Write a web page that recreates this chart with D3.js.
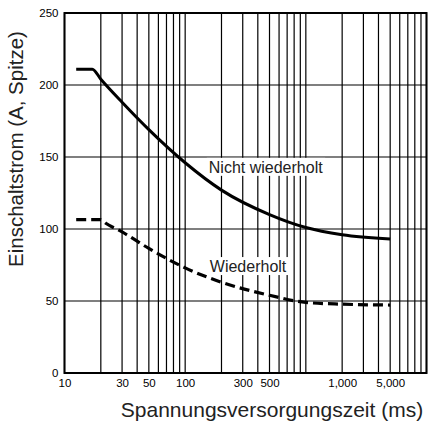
<!DOCTYPE html>
<html>
<head>
<meta charset="utf-8">
<script src="https://cdn.jsdelivr.net/npm/d3@7"></script>
<style>
  html, body { margin: 0; padding: 0; background: #fff; overflow: hidden; }
  svg { display: block; font-family: "Liberation Sans", Arial, sans-serif; }
</style>
</head>
<body>
<svg id="chart" width="429" height="423"></svg>
<script>
// Einschaltstrom vs. Spannungsversorgungszeit
const nichtTime = [12.5, 17, 20, 30, 50, 100, 200, 500, 1000, 2000, 5000];
const nichtCurrent = [211, 211, 204, 188, 169, 146, 127, 110, 101, 96, 93];

const wiederTime = [12.5, 20, 22, 30, 50, 100, 200, 500, 1000, 2000, 5000];
const wiederCurrent = [106.5, 106.5, 104, 98, 86.5, 73, 63, 54, 49, 47.8, 47.2];

const xTickValues = [10, 30, 50, 100, 300, 500, 2000, 5000];
const xTickLabels = ['10', '30', '50', '100', '300', '500', '1,000', '5,000'];
const yTickValues = [0, 50, 100, 150, 200, 250];

const svg = d3.select('#chart');
const plotLeft = 64.5;
const plotRight = 426.5;
const plotTop = 13;
const plotBottom = 373;

const x = d3.scaleLog().domain([10, 10000]).range([plotLeft, plotRight]);
const y = d3.scaleLinear().domain([0, 250]).range([plotBottom, plotTop]);

// log grid: 1..9 per decade
const xGrid = [];
[10, 100, 1000].forEach(d => {
  for (let k = 1; k < 10; k++) xGrid.push(k * d);
});
xGrid.push(10000);

const grid = svg.append('g').attr('stroke', '#000').attr('stroke-width', 1.2);
grid.selectAll('line.v')
  .data(xGrid)
  .join('line')
  .attr('class', 'v')
  .attr('x1', d => x(d)).attr('x2', d => x(d))
  .attr('y1', plotTop).attr('y2', plotBottom);

grid.selectAll('line.h')
  .data(yTickValues)
  .join('line')
  .attr('class', 'h')
  .attr('x1', plotLeft).attr('x2', plotRight)
  .attr('y1', d => y(d)).attr('y2', d => y(d));

// frame
svg.append('rect')
  .attr('x', plotLeft)
  .attr('y', plotTop)
  .attr('width', plotRight - plotLeft)
  .attr('height', plotBottom - plotTop)
  .attr('fill', 'none')
  .attr('stroke', '#000')
  .attr('stroke-width', 2);

// axes (labels only, the grid does the lines)
const xAxis = d3.axisBottom(x)
  .tickValues(xTickValues)
  .tickFormat((d, i) => xTickLabels[i])
  .tickSize(0)
  .tickPadding(6);
const gx = svg.append('g')
  .attr('transform', `translate(0, ${plotBottom})`)
  .call(xAxis);
gx.select('.domain').remove();
gx.selectAll('text')
  .attr('fill', '#000')
  .style('font-size', '11.5px')
  .style('font-family', '"Liberation Sans", Arial, sans-serif');

const yAxis = d3.axisLeft(y)
  .tickValues(yTickValues)
  .tickSize(0)
  .tickPadding(6);
const gy = svg.append('g')
  .attr('transform', `translate(${plotLeft}, 0)`)
  .call(yAxis);
gy.select('.domain').remove();
gy.selectAll('text')
  .attr('fill', '#000')
  .style('font-size', '11.5px')
  .style('font-family', '"Liberation Sans", Arial, sans-serif');

// curves
const line = d3.line()
  .x(d => x(d[0]))
  .y(d => y(d[1]))
  .curve(d3.curveMonotoneX);

svg.append('path')
  .datum(nichtTime.map((t, i) => [t, nichtCurrent[i]]))
  .attr('d', line)
  .attr('fill', 'none')
  .attr('stroke', '#000')
  .attr('stroke-width', 3);

svg.append('path')
  .datum(wiederTime.map((t, i) => [t, wiederCurrent[i]]))
  .attr('d', line)
  .attr('fill', 'none')
  .attr('stroke', '#000')
  .attr('stroke-width', 3.2)
  .attr('stroke-dasharray', '10,5');

// curve labels on white boxes
function curveLabel(text, t, v) {
  const g = svg.append('g');
  const label = g.append('text')
    .attr('x', x(t))
    .attr('y', y(v))
    .attr('fill', '#222')
    .attr('font-size', 16)
    .text(text);
  const bb = label.node().getBBox();
  g.insert('rect', 'text')
    .attr('x', bb.x - 2)
    .attr('y', bb.y - 1)
    .attr('width', bb.width + 4)
    .attr('height', bb.height + 1)
    .attr('fill', '#fff');
}
curveLabel('Nicht wiederholt', 157, 139);
curveLabel('Wiederholt', 160, 70.1);

// axis titles
svg.append('text')
  .attr('x', 272)
  .attr('y', 417)
  .attr('text-anchor', 'middle')
  .attr('font-size', 21)
  .attr('fill', '#222')
  .text('Spannungsversorgungszeit (ms)');

svg.append('text')
  .attr('transform', 'translate(23, 149) rotate(-90)')
  .attr('text-anchor', 'middle')
  .attr('font-size', 20.5)
  .attr('fill', '#222')
  .text('Einschaltstrom (A, Spitze)');
</script>
</body>
</html>
